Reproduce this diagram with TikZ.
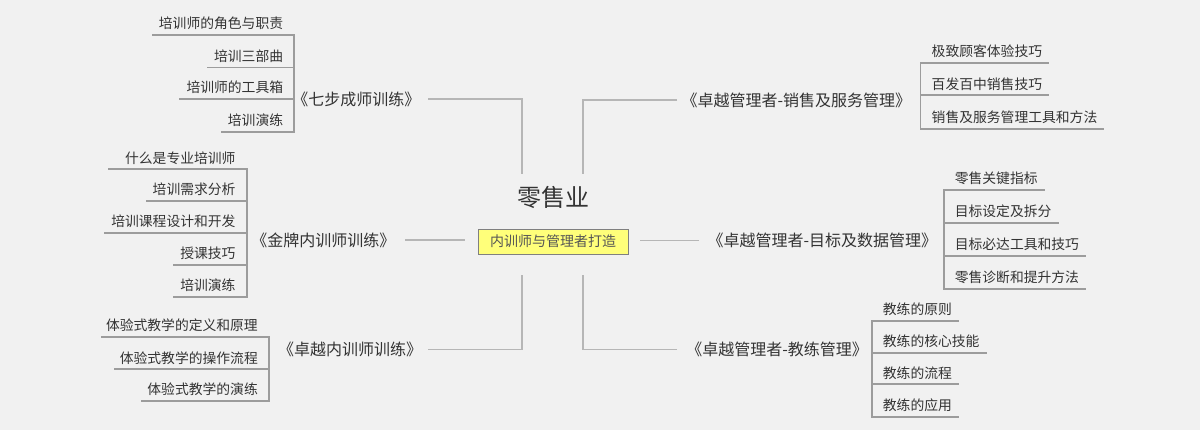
\documentclass[tikz,border=0pt]{standalone}
\usepackage{fontspec}
\setmainfont{Noto Sans CJK SC}
\definecolor{bg}{HTML}{F1F1F1}
\definecolor{txt}{HTML}{333333}
\definecolor{subline}{HTML}{9C9C9C}
\definecolor{connline}{HTML}{B6B6B6}
\definecolor{yel}{HTML}{FFFF7A}
\definecolor{yelborder}{HTML}{808080}
\definecolor{yeltxt}{HTML}{555555}
\newcommand\LeftItem[2][6pt]{\hspace*{#1}#2\hspace*{11pt}}
\newcommand\RightItem[1]{\hspace*{11pt}#1\hspace*{6pt}}
\begin{document}
\begin{tikzpicture}[x=1pt,y=-1pt,
  itembase/.style={font=\fontsize{13.8}{16}\selectfont, text=txt, inner xsep=0pt,
    inner ysep=5.8pt, text height=10.5pt, text depth=0pt},
  litem/.style={itembase, anchor=south east},
  ritem/.style={itembase, anchor=south west},
  mlab/.style={font=\fontsize{16}{19}\selectfont, text=txt, inner ysep=0pt,
    text height=12.2pt, text depth=0pt},
  sline/.style={draw=subline, line width=1.8pt, line cap=rect},
  conn/.style={draw=connline, line width=1.8pt}]
\fill[bg] (0,0) rectangle (1200,430);
\useasboundingbox (0,0) rectangle (1200,430);

% centre
\node[inner sep=0pt, minimum width=175pt, minimum height=101pt] (hub) at (552.5,224.5) {};
\node[font=\fontsize{24}{28}\selectfont, text=txt, inner sep=0pt, text height=18.2pt, text depth=0pt] (root) at (553,197.5) {零售业};
\node[draw=yelborder, fill=yel, line width=0.9pt, minimum width=150pt, minimum height=25pt, inner sep=0pt,
  font=\fontsize{14}{16}\selectfont, text=yeltxt] (tag) at (553,241.5) {内训师与管理者打造};

% main labels
\node[mlab, anchor=east, inner xsep=7.4pt] (L1) at (428,99) {《七步成师训练》};
\node[mlab, anchor=east, inner xsep=9.4pt] (L2) at (405,240) {《金牌内训师训练》};
\node[mlab, anchor=east, inner xsep=5.7pt] (L3) at (428,349.5) {《卓越内训师训练》};
\node[mlab, anchor=west, inner xsep=4.4pt] (R1) at (677,100) {《卓越管理者-销售及服务管理》};
\node[mlab, anchor=west, inner xsep=8.4pt] (R2) at (699,240.5) {《卓越管理者-目标及数据管理》};
\node[mlab, anchor=west, inner xsep=9.1pt] (R3) at (677,349.5) {《卓越管理者-教练管理》};

% connectors
\draw[conn] (L1.east) -| ([xshift=-30.5pt]hub.north);
\draw[conn] (L2.east) -- (L2.east -| hub.west);
\draw[conn] (L3.east) -| ([xshift=-30.5pt]hub.south);
\draw[conn] (R1.west) -| ([xshift=30.5pt]hub.north);
\draw[conn] (R2.west) -- (R2.west -| hub.east);
\draw[conn] (R3.west) -| ([xshift=30.5pt]hub.south);

% left top group
\node[litem] (a1) at (294.3,35) {\LeftItem{培训师的角色与职责}};
\node[litem] (a2) at (294.3,67.5) {\LeftItem{培训三部曲}};
\node[litem] (a3) at (294.3,99) {\LeftItem{培训师的工具箱}};
\node[litem] (a4) at (294.3,131.7) {\LeftItem{培训演练}};
\draw[sline] (a1.south east) -- (a4.south east);
\foreach \n in {a1,a2,a3,a4} \draw[sline] (\n.south west) -- (\n.south east);

% left middle group
\node[litem] (b1) at (246.7,169.3) {\LeftItem[16pt]{什么是专业培训师}};
\node[litem] (b2) at (246.7,201) {\LeftItem{培训需求分析}};
\node[litem] (b3) at (246.7,232.7) {\LeftItem{培训课程设计和开发}};
\node[litem] (b4) at (246.7,265) {\LeftItem{授课技巧}};
\node[litem] (b5) at (246.7,296.7) {\LeftItem{培训演练}};
\draw[sline] (b1.south east) -- (b5.south east);
\foreach \n in {b1,b2,b3,b4,b5} \draw[sline] (\n.south west) -- (\n.south east);

% left bottom group
\node[litem] (c1) at (269,336.7) {\LeftItem[4pt]{体验式教学的定义和原理}};
\node[litem] (c2) at (269,369.3) {\LeftItem[5pt]{体验式教学的操作流程}};
\node[litem] (c3) at (269,401) {\LeftItem[5pt]{体验式教学的演练}};
\draw[sline] (c1.south east) -- (c3.south east);
\foreach \n in {c1,c2,c3} \draw[sline] (\n.south west) -- (\n.south east);

% right top group
\node[ritem] (d1) at (920.5,62.7) {\RightItem{极致顾客体验技巧}};
\node[ritem] (d2) at (920.5,95.4) {\RightItem{百发百中销售技巧}};
\node[ritem] (d3) at (920.5,129) {\RightItem{销售及服务管理工具和方法}};
\draw[sline] (d1.south west) -- (d3.south west);
\foreach \n in {d1,d2,d3} \draw[sline] (\n.south west) -- (\n.south east);

% right middle group
\node[ritem] (e1) at (943.6,190) {\RightItem{零售关键指标}};
\node[ritem] (e2) at (943.6,223) {\RightItem{目标设定及拆分}};
\node[ritem] (e3) at (943.6,255.7) {\RightItem{目标必达工具和技巧}};
\node[ritem] (e4) at (943.6,289) {\RightItem{零售诊断和提升方法}};
\draw[sline] (e1.south west) -- (e4.south west);
\foreach \n in {e1,e2,e3,e4} \draw[sline] (\n.south west) -- (\n.south east);

% right bottom group
\node[ritem] (f1) at (871.7,321) {\RightItem{教练的原则}};
\node[ritem] (f2) at (871.7,352.7) {\RightItem{教练的核心技能}};
\node[ritem] (f3) at (871.7,384.3) {\RightItem{教练的流程}};
\node[ritem] (f4) at (871.7,416.7) {\RightItem{教练的应用}};
\draw[sline] (f1.south west) -- (f4.south west);
\foreach \n in {f1,f2,f3,f4} \draw[sline] (\n.south west) -- (\n.south east);
\end{tikzpicture}
\end{document}
